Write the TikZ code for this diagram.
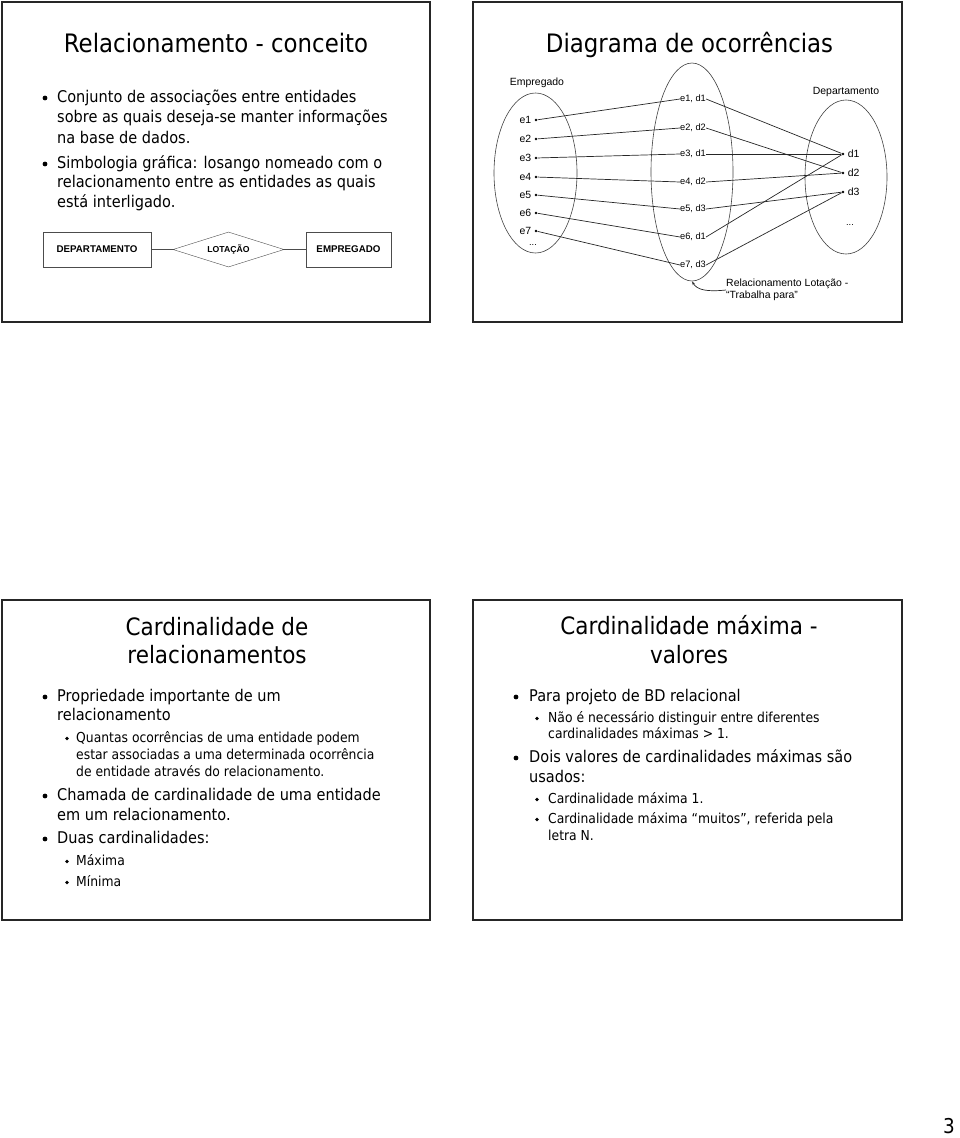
\documentclass[tikz,border=0pt]{standalone}
\usepackage{fontspec}
\setmainfont{DejaVu Sans}[FakeStretch=0.9]
\newfontfamily\arialfont{Liberation Sans}
\usetikzlibrary{shapes.geometric, arrows.meta}

\tikzset{
  slide/.style={draw=black!85, line width=1.6bp},
  ttl/.style={anchor=base, inner sep=0pt, font=\fontsize{25.5}{28}\selectfont},
  subttl/.style={anchor=base, inner sep=0pt, font=\fontsize{24}{28}\selectfont},
  lvone/.style={anchor=base west, inner sep=0pt, align=left, font=\fontsize{16.2}{20}\selectfont},
  lvtwo/.style={anchor=base west, inner sep=0pt, align=left, font=\fontsize{13.8}{17}\selectfont},
  bigdot/.style={circle, fill, inner sep=0pt, minimum size=4.8bp},
  smalldot/.style={circle, fill, inner sep=0pt, minimum size=3.8bp},
  entity/.style={draw=black!70, minimum height=35bp, inner sep=0pt, font=\arialfont\bfseries\fontsize{9.8}{11}\selectfont},
  relship/.style={draw=black!70, diamond, aspect=3.2, minimum width=111bp, minimum height=35bp, inner sep=0pt, font=\arialfont\bfseries\fontsize{8.7}{10}\selectfont},
  occset/.style={draw=black!75, ellipse, inner sep=0pt, line width=0.6bp},
  lbl/.style={font=\arialfont\fontsize{10.5}{12}\selectfont, inner sep=0pt},
  pair/.style={font=\arialfont\fontsize{9.3}{10}\selectfont, inner sep=0pt},
  edot/.style={circle, fill, inner sep=0pt, minimum size=2.8bp},
  link/.style={black!85, line width=0.7bp},
}

\begin{document}
\begin{tikzpicture}[x=1bp, y=-1bp]
  \useasboundingbox (0,0) rectangle (960,1138);
  % slide frames
  \draw[slide] (2,2) rectangle (430,322);
  \draw[slide] (473,2) rectangle (902,322);
  \draw[slide] (2,600) rectangle (430,920);
  \draw[slide] (473,600) rectangle (902,920);

  % slide 1 (multi-line nodes sit on their last baseline)
  \node[ttl] (t1) at (216,52) {Relacionamento - conceito};
  \node[bigdot] (b11) at (45,98) {};
  \node[lvone, font=\fontsize{16.2}{20.5}\selectfont] (i11) at (57,143) {Conjunto de associações entre entidades\\sobre as quais deseja-se manter informações\\na base de dados.};
  \node[bigdot] (b12) at (45,164) {};
  \node[lvone, font=\fontsize{16.2}{19.5}\selectfont] (i12) at (57,207) {Simbologia gráfica: losango nomeado com o\\relacionamento entre as entidades as quais\\está interligado.};
  \node[entity, minimum width=108bp] (depbox) at (97,249.5) {DEPARTAMENTO};
  \node[relship] (lotdiam) at (228.5,249.5) {LOTAÇÃO};
  \node[entity, minimum width=85bp] (empbox) at (348.5,249.5) {EMPREGADO};
  \draw[black!70] (depbox) -- (lotdiam);
  \draw[black!70] (lotdiam) -- (empbox);

  % slide 2
  \node[ttl] (t2) at (689.5,52) {Diagrama de ocorrências};
  \node[occset, minimum width=83bp, minimum height=160bp] (empset) at (535.5,173) {};
  \node[occset, minimum width=82bp, minimum height=218bp] (relset) at (692,172) {};
  \node[occset, minimum width=82bp, minimum height=154bp] (depset) at (846,177) {};
  \node[lbl] (emplbl) at (537,83) {Empregado};
  \node[lbl] (deplbl) at (846,92) {Departamento};
  % employees
  \node[edot, label={[lbl, label distance=3bp]left:e1}] (e1) at (536,120) {};
  \node[edot, label={[lbl, label distance=3bp]left:e2}] (e2) at (536,139) {};
  \node[edot, label={[lbl, label distance=3bp]left:e3}] (e3) at (536,158) {};
  \node[edot, label={[lbl, label distance=3bp]left:e4}] (e4) at (536,177) {};
  \node[edot, label={[lbl, label distance=3bp]left:e5}] (e5) at (536,195) {};
  \node[edot, label={[lbl, label distance=3bp]left:e6}] (e6) at (536,213) {};
  \node[edot, label={[lbl, label distance=3bp]left:e7}] (e7) at (536,231) {};
  \node[pair] (emore) at (533,245) {...};
  % pairs
  \node[pair] (p1) at (693,99) {e1, d1};
  \node[pair] (p2) at (693,128) {e2, d2};
  \node[pair] (p3) at (693,154) {e3, d1};
  \node[pair] (p4) at (693,182) {e4, d2};
  \node[pair] (p5) at (693,209) {e5, d3};
  \node[pair] (p6) at (693,237) {e6, d1};
  \node[pair] (p7) at (693,265) {e7, d3};
  % departments
  \node[edot, label={[lbl, label distance=3bp]right:d1}] (d1) at (843,154) {};
  \node[edot, label={[lbl, label distance=3bp]right:d2}] (d2) at (843,173) {};
  \node[edot, label={[lbl, label distance=3bp]right:d3}] (d3) at (843,192) {};
  \node[pair] (dmore) at (850,225) {...};
  % links
  \draw[link] (e1) -- (p1.west);
  \draw[link] (e2) -- (p2.west);
  \draw[link] (e3) -- (p3.west);
  \draw[link] (e4) -- (p4.west);
  \draw[link] (e5) -- (p5.west);
  \draw[link] (e6) -- (p6.west);
  \draw[link] (e7) -- (p7.west);
  \draw[link] (p1.east) -- (d1);
  \draw[link] (p2.east) -- (d2);
  \draw[link] (p3.east) -- (d1);
  \draw[link] (p4.east) -- (d2);
  \draw[link] (p5.east) -- (d3);
  \draw[link] (p6.east) -- (d1);
  \draw[link] (p7.east) -- (d3);
  \node[lbl, anchor=west, align=left] (note) at (726,290) {Relacionamento Lotação -\\“Trabalha para”};
  \draw[link, -{Stealth[length=4bp, width=2.5bp]}] (note.west) .. controls (707,292) and (697,290) .. (relset.south);

  % slide 3
  \node[subttl] (t3a) at (217,635) {Cardinalidade de};
  \node[subttl] (t3b) at (217,663) {relacionamentos};
  \node[bigdot] (b31) at (45,697) {};
  \node[lvone, font=\fontsize{16.2}{19}\selectfont] (i31) at (57,720) {Propriedade importante de um\\relacionamento};
  \node[smalldot] (b32) at (67,738.5) {};
  \node[lvtwo] (i32) at (76,776) {Quantas ocorrências de uma entidade podem\\estar associadas a uma determinada ocorrência\\de entidade através do relacionamento.};
  \node[bigdot] (b33) at (45,796) {};
  \node[lvone] (i33) at (57,820) {Chamada de cardinalidade de uma entidade\\em um relacionamento.};
  \node[bigdot] (b34) at (45,839) {};
  \node[lvone] (i34) at (57,843) {Duas cardinalidades:};
  \node[smalldot] (b35) at (67,861.5) {};
  \node[lvtwo] (i35) at (76,865) {Máxima};
  \node[smalldot] (b36) at (67,882.5) {};
  \node[lvtwo] (i36) at (76,886) {Mínima};

  % slide 4
  \node[subttl] (t4a) at (689,634) {Cardinalidade máxima -};
  \node[subttl] (t4b) at (689,663) {valores};
  \node[bigdot] (b41) at (516,697) {};
  \node[lvone] (i41) at (529,701) {Para projeto de BD relacional};
  \node[smalldot] (b42) at (537,718.5) {};
  \node[lvtwo, font=\fontsize{13.8}{16.5}\selectfont] (i42) at (548,738.5) {Não é necessário distinguir entre diferentes\\cardinalidades máximas > 1.};
  \node[bigdot] (b43) at (516,758) {};
  \node[lvone] (i43) at (529,782) {Dois valores de cardinalidades máximas são\\usados:};
  \node[smalldot] (b44) at (537,799.5) {};
  \node[lvtwo] (i44) at (548,803) {Cardinalidade máxima 1.};
  \node[smalldot] (b45) at (537,819.5) {};
  \node[lvtwo] (i45) at (548,840) {Cardinalidade máxima “muitos”, referida pela\\letra N.};

  % page number
  \node[anchor=base, inner sep=0pt, font=\fontsize{20.5}{22}\selectfont] (pgnum) at (949,1133) {3};
\end{tikzpicture}
\end{document}
